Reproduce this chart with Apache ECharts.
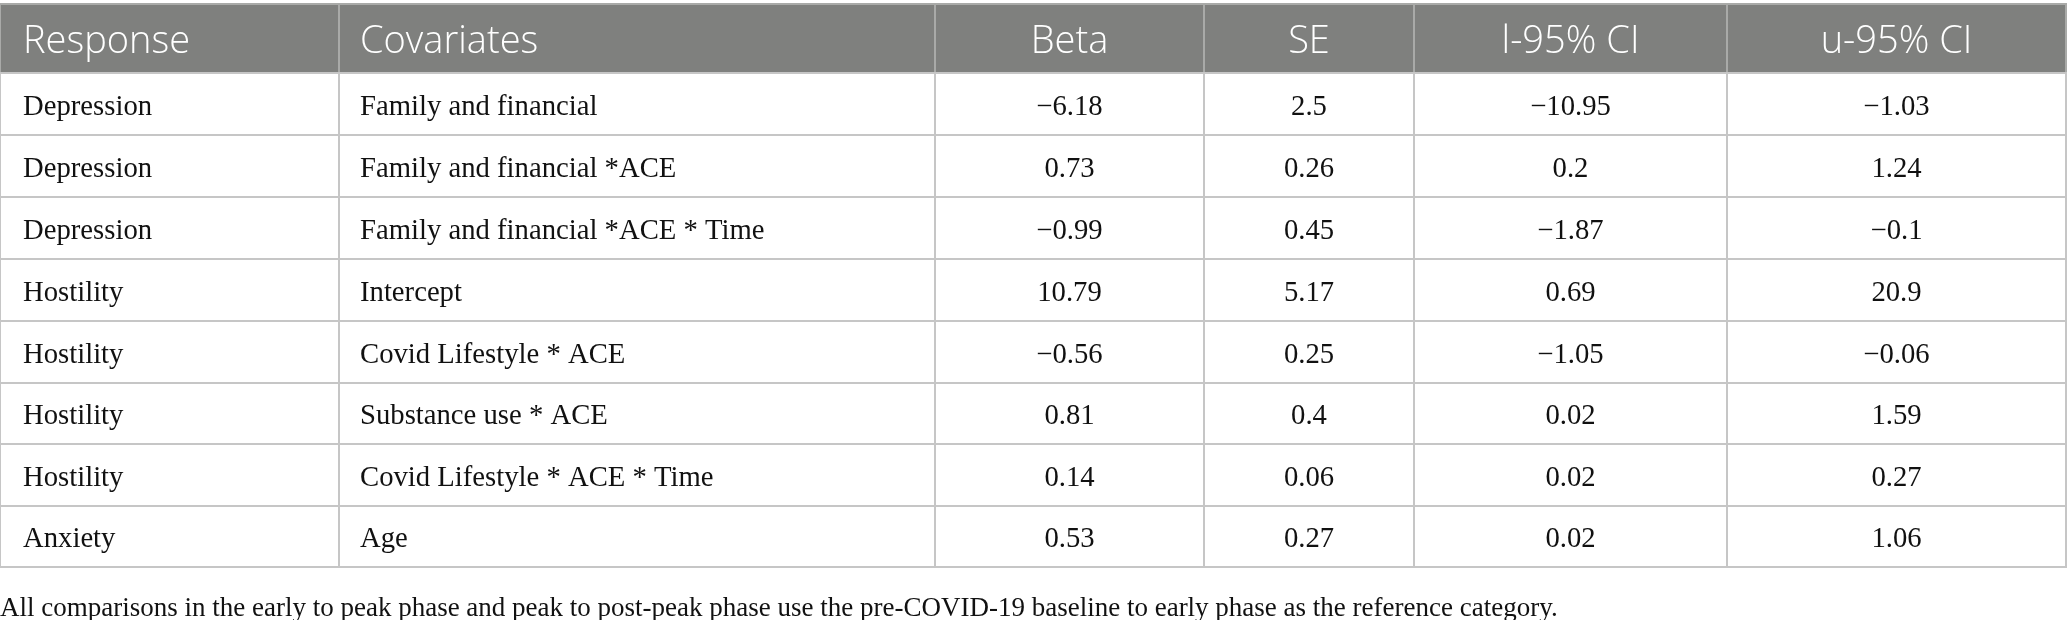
<!DOCTYPE html>
<html>
<head>
<meta charset="utf-8">
<script src="https://cdn.jsdelivr.net/npm/echarts@6/dist/echarts.min.js"></script>
<style>
  html, body { margin: 0; padding: 0; background: #fff; }
  #table_chart { width: 2067px; height: 620px; }
</style>
</head>
<body>
<div id="table_chart"></div>
<script>
const headers = ['Response', 'Covariates', 'Beta', 'SE', 'l-95% CI', 'u-95% CI'];
const responses = ['Depression', 'Depression', 'Depression', 'Hostility', 'Hostility', 'Hostility', 'Hostility', 'Anxiety'];
const covariates = [
  'Family and financial',
  'Family and financial *ACE',
  'Family and financial *ACE * Time',
  'Intercept',
  'Covid Lifestyle * ACE',
  'Substance use * ACE',
  'Covid Lifestyle * ACE * Time',
  'Age'
];
const beta = [-6.18, 0.73, -0.99, 10.79, -0.56, 0.81, 0.14, 0.53];
const se = [2.5, 0.26, 0.45, 5.17, 0.25, 0.4, 0.06, 0.27];
const lowerCI = [-10.95, 0.2, -1.87, 0.69, -1.05, 0.02, 0.02, 0.02];
const upperCI = [-1.03, 1.24, -0.1, 20.9, -0.06, 1.59, 0.27, 1.06];
const footnote = 'All comparisons in the early to peak phase and peak to post-peak phase use the pre-COVID-19 baseline to early phase as the reference category.';

// layout (axis units = page pixels)
const colEdges = [0, 339, 935, 1204, 1414, 1727, 2066];
const rowEdges = [4, 73, 135, 197, 259, 321, 383, 444, 506, 567];
const padLeft = [23, 21];

const fmt = (v) => String(v).replace('-', '\u2212');

// build cell list: [col, row, text]
const cells = [];
headers.forEach((h, c) => cells.push([c, 0, h]));
responses.forEach((resp, i) => {
  const rowVals = [resp, covariates[i], fmt(beta[i]), fmt(se[i]), fmt(lowerCI[i]), fmt(upperCI[i])];
  rowVals.forEach((t, c) => cells.push([c, i + 1, t]));
});

function renderCell(params, api) {
  const cell = cells[params.dataIndex];
  const c = cell[0], r = cell[1];
  const p0 = api.coord([colEdges[c], rowEdges[r]]);
  const p1 = api.coord([colEdges[c + 1], rowEdges[r + 1]]);
  const isHead = r === 0;
  const leftAlign = c < 2;
  return {
    type: 'group',
    children: [
      {
        type: 'rect',
        shape: { x: p0[0], y: p0[1], width: p1[0] - p0[0], height: p1[1] - p0[1] },
        style: {
          fill: isHead ? '#7f807e' : '#fff',
          stroke: isHead ? '#a9aaa8' : '#c6c6c6',
          lineWidth: 2
        }
      },
      {
        type: 'text',
        style: {
          text: cell[2],
          x: leftAlign ? p0[0] + padLeft[c] : (p0[0] + p1[0]) / 2,
          y: (p0[1] + p1[1]) / 2 + (isHead ? 4 : 3),
          align: leftAlign ? 'left' : 'center',
          verticalAlign: 'middle',
          fill: isHead ? '#ffffff' : '#111111',
          fontFamily: isHead ? '"Open Sans", "Noto Sans", sans-serif' : '"Liberation Serif", "DejaVu Serif", serif',
          fontWeight: isHead ? 300 : 'normal',
          fontSize: isHead ? 38 : 28.7
        }
      }
    ]
  };
}

const chartDom = document.getElementById('table_chart');
const myChart = echarts.init(chartDom);
myChart.setOption({
  animation: false,
  title: {
    text: footnote,
    left: 0,
    top: 595,
    padding: 0,
    textStyle: {
      fontFamily: '"Liberation Serif", "DejaVu Serif", serif',
      fontSize: 27,
      fontWeight: 'normal',
      color: '#111111'
    }
  },
  grid: { left: 0, right: 0, top: 0, bottom: 0 },
  xAxis: { type: 'value', min: 0, max: 2067, show: false },
  yAxis: { type: 'value', min: 0, max: 620, inverse: true, show: false },
  series: [{
    type: 'custom',
    renderItem: renderCell,
    data: cells.map((cell) => [colEdges[cell[0]], rowEdges[cell[1]]]),
    clip: false,
    silent: true
  }]
});
</script>
</body>
</html>
